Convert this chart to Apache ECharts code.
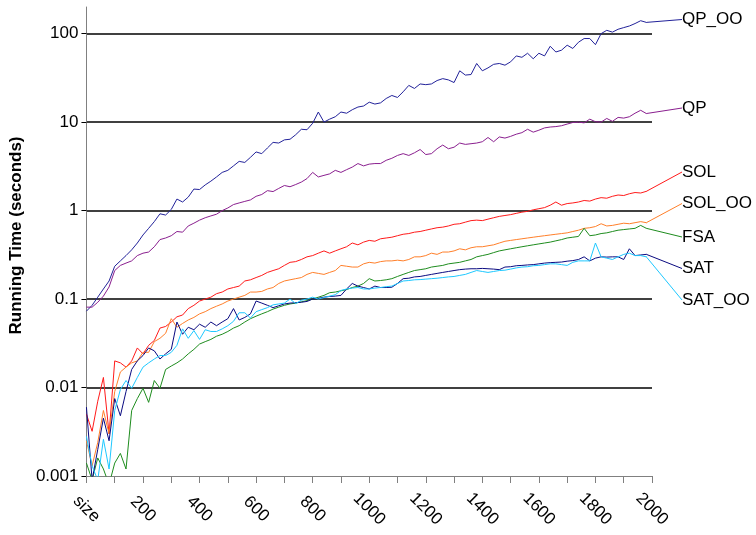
<!DOCTYPE html>
<html><head><meta charset="utf-8">
<script src="https://cdn.jsdelivr.net/npm/echarts@6/dist/echarts.min.js"></script>
<style>html,body{margin:0;padding:0;background:#fff}#c{width:756px;height:535px}</style>
</head><body><div id="c"></div>
<script>
// x values (problem size)
const sizes = [0,20,40,60,80,100,120,140,160,180,
  200,220,240,260,280,300,320,340,360,380,
  400,420,440,460,480,500,520,540,560,580,
  600,620,640,660,680,700,720,740,760,780,
  800,820,840,860,880,900,920,940,960,980,
  1000,1020,1040,1060,1080,1100,1120,1140,1160,1180,
  1200,1220,1240,1260,1280,1300,1320,1340,1360,1380,
  1400,1420,1440,1460,1480,1500,1520,1540,1560,1580,
  1600,1620,1640,1660,1680,1700,1720,1740,1760,1780,
  1800,1820,1840,1860,1880,1900,1920,1940,1960,1980];

const xTickLabels = ['size','200','400','600','800','1000','1200','1400','1600','1800','2000'];
const yTickLabels = ['0.001','0.01','0.1','1','10','100'];

const QP_OO = [0.073,0.085,0.105,0.13,0.16,0.235,0.27,0.31,0.36,0.43,
  0.53,0.63,0.75,0.92,0.89,1.03,1.35,1.25,1.42,1.75,
  1.73,1.95,2.15,2.4,2.7,2.85,3.2,3.6,3.5,4.0,
  4.6,4.4,5.1,5.9,5.8,6.3,6.4,7.2,8.3,8.2,
  9.7,13,10,10.8,11.5,13,12.6,13.8,14.8,15.2,
  16.8,16,16.5,18.5,20,19,22,26,24,27,
  26.5,27,29.5,31,30,28,38,34,34.5,46,
  38,41,45,46,44,48,56,54,60,52,
  60,56,72,62,65,74,68,80,88,88,
  75,100,109,104,112,117,122,130,140,134];

const QP = [0.081,0.081,0.092,0.108,0.137,0.21,0.24,0.255,0.27,0.31,
  0.33,0.34,0.39,0.47,0.49,0.52,0.58,0.57,0.67,0.72,
  0.78,0.83,0.87,0.91,1.0,1.07,1.17,1.22,1.27,1.32,
  1.45,1.52,1.68,1.64,1.78,1.92,1.86,1.97,2.1,2.3,
  2.7,2.4,2.5,2.6,2.85,2.7,2.9,3.1,3.4,3.2,
  3.35,3.4,3.4,3.7,3.9,4.2,4.4,4.2,4.5,4.9,
  4.3,4.4,5.0,5.5,5.0,5.2,5.8,5.6,5.7,5.8,
  6.0,6.7,6.0,6.8,6.6,6.9,7.3,7.6,8.3,7.7,
  8.1,8.6,8.8,8.9,9.1,9.5,9.9,10,9.8,10.8,
  10.1,10,11,10.2,11.3,11.1,11.5,12.6,13.6,12.5];

const SOL = [0.005,0.0032,0.007,0.013,0.003,0.02,0.019,0.017,0.02,0.028,
  0.024,0.03,0.034,0.047,0.049,0.055,0.063,0.066,0.078,0.085,
  0.095,0.1,0.105,0.115,0.12,0.13,0.135,0.14,0.16,0.165,
  0.175,0.185,0.2,0.21,0.22,0.24,0.26,0.265,0.28,0.3,
  0.31,0.33,0.35,0.33,0.35,0.37,0.39,0.43,0.41,0.44,
  0.46,0.45,0.48,0.49,0.5,0.52,0.54,0.55,0.57,0.58,
  0.6,0.62,0.64,0.65,0.67,0.7,0.71,0.74,0.77,0.78,
  0.77,0.8,0.83,0.86,0.88,0.9,0.93,0.96,0.98,1.02,
  1.05,1.08,1.15,1.25,1.15,1.2,1.22,1.25,1.3,1.28,
  1.35,1.4,1.38,1.45,1.5,1.48,1.55,1.6,1.58,1.65];

const SOL_OO = [0.0025,0.0013,0.0024,0.0055,0.003,0.009,0.015,0.017,0.019,0.02,
  0.025,0.025,0.033,0.036,0.041,0.06,0.048,0.053,0.058,0.062,
  0.068,0.072,0.078,0.083,0.088,0.095,0.1,0.105,0.11,0.12,
  0.12,0.122,0.13,0.135,0.15,0.16,0.165,0.17,0.175,0.19,
  0.2,0.195,0.19,0.2,0.21,0.24,0.235,0.23,0.23,0.25,
  0.26,0.255,0.265,0.27,0.27,0.275,0.27,0.28,0.3,0.3,
  0.31,0.33,0.32,0.34,0.34,0.35,0.37,0.36,0.38,0.39,
  0.39,0.4,0.41,0.43,0.45,0.46,0.47,0.48,0.49,0.5,
  0.51,0.52,0.53,0.54,0.55,0.56,0.58,0.6,0.63,0.64,
  0.66,0.71,0.67,0.68,0.7,0.72,0.71,0.73,0.75,0.73];

const FSA = [0.0014,0.0009,0.0016,0.0012,0.0008,0.0014,0.0018,0.0012,0.0055,0.0075,
  0.0098,0.0068,0.012,0.0098,0.016,0.0175,0.019,0.021,0.024,0.027,
  0.031,0.033,0.035,0.038,0.04,0.043,0.047,0.05,0.055,0.06,
  0.064,0.068,0.072,0.077,0.081,0.085,0.088,0.09,0.093,0.096,
  0.1,0.105,0.11,0.118,0.12,0.124,0.128,0.135,0.14,0.15,
  0.17,0.16,0.162,0.165,0.17,0.18,0.19,0.2,0.21,0.215,
  0.22,0.23,0.235,0.24,0.25,0.255,0.26,0.27,0.28,0.3,
  0.31,0.32,0.335,0.35,0.36,0.37,0.38,0.39,0.4,0.41,
  0.42,0.43,0.44,0.455,0.47,0.49,0.5,0.51,0.63,0.52,
  0.53,0.55,0.56,0.58,0.6,0.61,0.62,0.63,0.68,0.63];

const SAT = [0.006,0.0009,0.002,0.0045,0.0025,0.0075,0.0048,0.009,0.016,0.02,
  0.023,0.028,0.026,0.021,0.024,0.027,0.055,0.04,0.048,0.045,
  0.052,0.048,0.055,0.05,0.055,0.06,0.078,0.058,0.062,0.068,
  0.095,0.09,0.085,0.08,0.084,0.088,0.09,0.091,0.092,0.094,
  0.1,0.102,0.105,0.107,0.108,0.11,0.13,0.15,0.14,0.135,
  0.13,0.14,0.135,0.135,0.136,0.15,0.17,0.172,0.178,0.18,
  0.185,0.19,0.195,0.2,0.205,0.21,0.215,0.218,0.22,0.22,
  0.222,0.22,0.218,0.215,0.23,0.232,0.238,0.24,0.243,0.245,
  0.25,0.255,0.258,0.26,0.262,0.268,0.272,0.28,0.3,0.27,
  0.29,0.3,0.298,0.3,0.3,0.28,0.37,0.31,0.315,0.32];

const SAT_OO = [0.0028,0.0013,0.0009,0.0026,0.0012,0.0055,0.0095,0.012,0.0098,0.013,
  0.017,0.019,0.021,0.023,0.023,0.025,0.03,0.046,0.036,0.044,
  0.035,0.045,0.043,0.043,0.046,0.05,0.056,0.07,0.07,0.061,
  0.072,0.076,0.08,0.086,0.088,0.09,0.1,0.089,0.097,0.1,
  0.105,0.1,0.104,0.108,0.112,0.125,0.13,0.133,0.135,0.13,
  0.13,0.133,0.135,0.138,0.14,0.15,0.16,0.162,0.165,0.166,
  0.168,0.17,0.172,0.175,0.178,0.18,0.185,0.19,0.2,0.21,
  0.205,0.2,0.205,0.21,0.212,0.218,0.225,0.23,0.232,0.238,
  0.24,0.245,0.25,0.25,0.245,0.24,0.26,0.27,0.27,0.27,
  0.43,0.3,0.29,0.28,0.3,0.32,0.33,0.31,0.31,0.3];

const FONT = "'Liberation Sans', Arial, Helvetica, sans-serif";

const defs = [
  {name:'QP_OO', vals:QP_OO, color:'#22229a', ly:19.5},
  {name:'QP', vals:QP, color:'#8a1f8f', ly:108},
  {name:'SOL', vals:SOL, color:'#ff1a1a', ly:172},
  {name:'SOL_OO', vals:SOL_OO, color:'#ff7f2a', ly:203.5},
  {name:'FSA', vals:FSA, color:'#1e8c1e', ly:237},
  {name:'SAT', vals:SAT, color:'#0a0a80', ly:268.5},
  {name:'SAT_OO', vals:SAT_OO, color:'#1ec8ff', ly:300}
];

const series = defs.map(d => ({
  type:'line',
  name:d.name,
  symbol:'none',
  clip:true,
  lineStyle:{color:d.color, width:1},
  itemStyle:{color:d.color},
  data:d.vals.map((v,i) => i === d.vals.length-1
    ? {value:[sizes[i], v], symbol:'circle', symbolSize:1,
       label:{show:true, formatter:d.name, color:'#000', fontSize:17, fontFamily:FONT, padding:[0,0,0,8]}}
    : [sizes[i], v]),
  labelLayout:{x:674, y:d.ly, align:'left', verticalAlign:'middle'},
  labelLine:{show:true, lineStyle:{color:d.color, width:1}},
  emphasis:{disabled:true}
}));

const chart = echarts.init(document.getElementById('c'), null, {renderer:'canvas'});
chart.setOption({
  animation:false,
  backgroundColor:'#fff',
  textStyle:{fontFamily:FONT},
  grid:{left:83, right:104, top:7, bottom:59, containLabel:false},
  xAxis:{
    type:'value', min:0, max:2000, interval:100,
    axisLine:{show:true, lineStyle:{color:'#808080', width:1}},
    axisTick:{show:true, length:7, lineStyle:{color:'#808080'}},
    splitLine:{show:false},
    axisLabel:{
      rotate:-45, align:'center', verticalAlign:'middle',
      color:'#000', fontSize:17, fontFamily:FONT, margin:33,
      formatter:v => (v % 200 === 0 ? xTickLabels[v/200] : '')
    }
  },
  yAxis:{
    type:'log', logBase:10, min:0.001, max:200,
    name:'Running Time (seconds)', nameLocation:'middle', nameGap:46,
    nameTextStyle:{fontWeight:'bold', fontSize:17, color:'#000', fontFamily:FONT, padding:[0,0,0,12]},
    axisLine:{show:true, lineStyle:{color:'#808080', width:1}},
    axisTick:{show:true, length:5, lineStyle:{color:'#000'}},
    splitLine:{show:true, showMinLine:false, showMaxLine:false, lineStyle:{color:'#000', width:1.5}},
    axisLabel:{
      color:'#000', fontSize:17, fontFamily:FONT, margin:8, showMaxLabel:false,
      formatter:v => {
        const e = Math.round(Math.log10(v));
        if (Math.abs(Math.log10(v) - e) > 1e-6) return '';
        return yTickLabels[e + 3] || '';
      }
    }
  },
  series
});
</script></body></html>
